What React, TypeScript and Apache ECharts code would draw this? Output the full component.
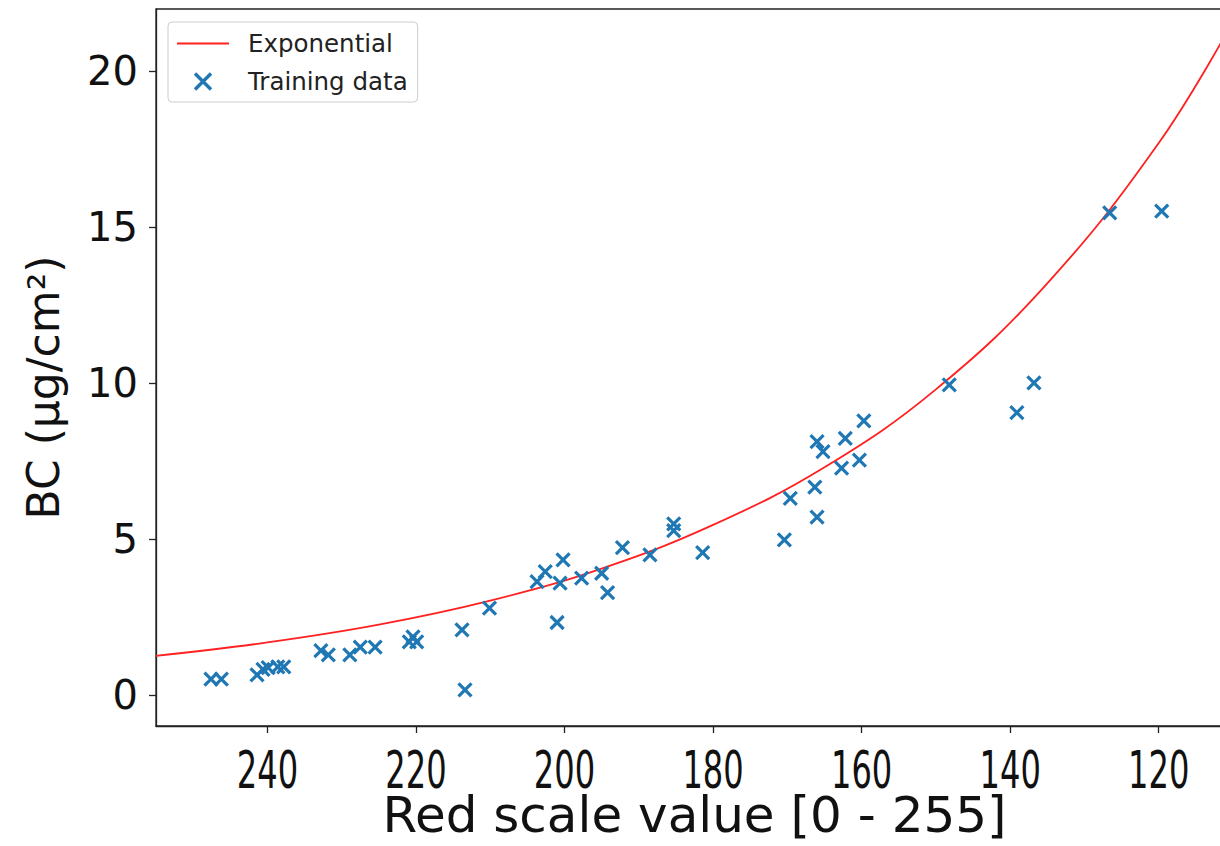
import React, { useEffect, useRef } from "react";
import * as echarts from "echarts";

// Training data (red scale value, BC in µg/cm²)
const redValues = [
  247.6, 246.2, 241.4, 240.6, 239.9, 238.6, 237.8, 232.8, 231.8, 228.9,
  227.5, 225.5, 220.9, 220.4, 219.9, 213.8, 213.4, 210.1, 203.7, 202.6,
  200.2, 200.6, 197.7, 195.0, 194.2, 201.0, 192.2, 188.5, 185.3, 185.3,
  181.4, 159.7, 162.2, 166.0, 165.2, 160.3, 162.7, 166.3, 169.6, 166.0,
  170.4, 148.2, 136.8, 139.1, 126.6, 119.6,
];
const bcValues = [
  0.5, 0.5, 0.64, 0.82, 0.87, 0.9, 0.9, 1.42, 1.28, 1.28,
  1.53, 1.53, 1.7, 1.86, 1.7, 2.08, 0.16, 2.78, 3.63, 3.95,
  4.33, 3.58, 3.74, 3.9, 3.28, 2.32, 4.72, 4.49, 5.48, 5.27,
  4.56, 8.79, 8.23, 8.12, 7.8, 7.53, 7.27, 6.66, 6.3, 5.7,
  4.97, 9.94, 10.01, 9.05, 15.46, 15.52,
];

// Exponential fit curve
const fitX = [255, 240, 225, 210, 195, 180, 165, 150, 135, 120, 110];
const fitY = [1.25, 1.68, 2.25, 3.02, 4.05, 5.45, 7.3, 9.8, 13.2, 17.7, 21.6];

const xTicks = [240, 220, 200, 180, 160, 140, 120];
const yTicks = [0, 5, 10, 15, 20];

const X_MARK = "path://M0,0L10,10M10,0L0,10";
const LINE_ICON = "path://M0,0L52,0L52,1.8L0,1.8Z";

export default function App() {
  const ref = useRef<HTMLDivElement>(null);
  useEffect(() => {
    if (!ref.current) return;
    const chart = echarts.init(ref.current, null, { renderer: "svg" });
    const axisColor = "#222";
    chart.setOption({
      animation: false,
      backgroundColor: "#fff",
      grid: {
        left: 156,
        top: 9,
        right: -13,
        bottom: 120,
        outerBoundsMode: "none",
        containLabel: false,
        show: true,
        borderColor: axisColor,
        borderWidth: 1.3,
        backgroundColor: "transparent",
      },
      legend: {
        orient: "vertical",
        left: 168,
        top: 22,
        padding: [9, 10, 8, 9],
        itemGap: 13,
        itemWidth: 52,
        itemHeight: 16,
        symbolKeepAspect: true,
        backgroundColor: "rgba(255,255,255,0.8)",
        borderColor: "#ccc",
        borderWidth: 1,
        borderRadius: 4,
        textStyle: {
          fontFamily: "DejaVu Sans",
          fontSize: 24.5,
          color: "#222",
          padding: [0, 0, 0, 14],
        },
        data: [
          { name: "Exponential", icon: LINE_ICON, itemStyle: { borderWidth: 0 } },
          { name: "Training data", itemStyle: { borderWidth: 3.4 } },
        ],
      },
      xAxis: {
        type: "value",
        inverse: true,
        min: 110,
        max: 255,
        name: "Red scale value [0 - 255]",
        nameLocation: "middle",
        nameGap: 64,
        nameTextStyle: {
          fontFamily: "DejaVu Sans",
          fontSize: 50,
          color: "#111",
          verticalAlign: "top",
        },
        axisLine: { show: true, onZero: false, lineStyle: { color: axisColor, width: 1.3 } },
        axisTick: {
          show: true,
          customValues: xTicks,
          length: 7,
          lineStyle: { color: axisColor, width: 1.3 },
        },
        axisLabel: { show: false },
        splitLine: { show: false },
      },
      yAxis: {
        type: "value",
        min: -1,
        max: 22,
        name: "BC (µg/cm²)",
        nameLocation: "middle",
        nameRotate: 90,
        nameGap: 91,
        nameTextStyle: {
          fontFamily: "DejaVu Sans",
          fontSize: 44,
          color: "#111",
          padding: [0, 40, 0, 0],
        },
        axisLine: { show: true, onZero: false, lineStyle: { color: axisColor, width: 1.3 } },
        axisTick: {
          show: true,
          customValues: yTicks,
          length: 7,
          lineStyle: { color: axisColor, width: 1.3 },
        },
        axisLabel: {
          customValues: yTicks,
          margin: 18,
          fontFamily: "DejaVu Sans",
          fontSize: 40,
          color: "#111",
        },
        splitLine: { show: false },
      },
      series: [
        {
          name: "Exponential",
          type: "line",
          data: fitX.map((x, i) => [x, fitY[i]]),
          smooth: 0.4,
          symbol: "none",
          lineStyle: { color: "#ff2020", width: 1.8 },
          itemStyle: { color: "#ff2020" },
          z: 3,
        },
        {
          name: "Training data",
          type: "scatter",
          data: redValues.map((x, i) => [x, bcValues[i]]),
          symbol: X_MARK,
          symbolSize: 13,
          symbolKeepAspect: true,
          itemStyle: {
            color: "transparent",
            borderColor: "#1f77b4",
            borderWidth: 3.2,
            opacity: 1,
          },
          z: 4,
        },
      ],
    });
    // x tick labels in a condensed form, placed through the axis scale
    const labels = xTicks.map((v) => {
      const px = chart.convertToPixel({ xAxisIndex: 0 }, v) as number;
      return {
        type: "text",
        x: px,
        y: 770,
        scaleX: 0.63,
        silent: true,
        style: {
          text: String(v),
          fontFamily: "DejaVu Sans",
          fontSize: 51,
          fill: "#111",
          align: "center",
          verticalAlign: "middle",
        },
      };
    });
    chart.setOption({ graphic: labels });
    return () => chart.dispose();
  }, []);
  return (
    <div
      ref={ref}
      style={{ position: "fixed", left: 0, top: 0, width: 1220, height: 846 }}
    />
  );
}
